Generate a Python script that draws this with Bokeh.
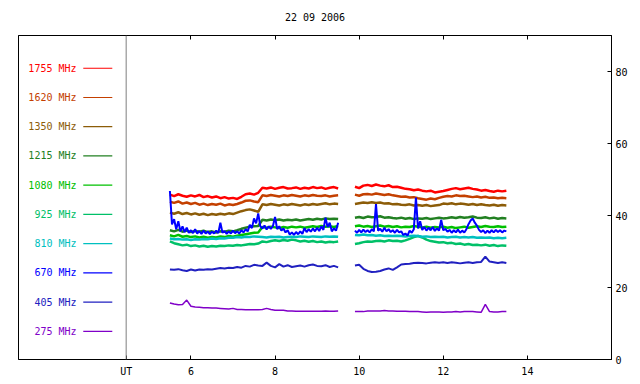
from bokeh.plotting import figure
from bokeh.models import Range1d, FixedTicker, LinearAxis, Span, ColumnDataSource, LabelSet
from bokeh.core.properties import value
from bokeh.embed import file_html
from bokeh.resources import INLINE

# ---------------- data ----------------
times_a = [5.5, 5.6, 5.7, 5.8, 5.9, 6.0, 6.1, 6.2, 6.3, 6.4,
           6.5, 6.6, 6.7, 6.8, 6.9, 7.0, 7.1, 7.2, 7.3, 7.4,
           7.5, 7.6, 7.7, 7.8, 7.9, 8.0, 8.1, 8.2, 8.3, 8.4,
           8.5, 8.6, 8.7, 8.8, 8.9, 9.0, 9.1, 9.2, 9.3, 9.4,
           9.5]
times_b = [9.9, 10.0, 10.1, 10.2, 10.3, 10.4, 10.5, 10.6, 10.7, 10.8,
           10.9, 11.0, 11.1, 11.2, 11.3, 11.4, 11.5, 11.6, 11.7, 11.8,
           11.9, 12.0, 12.1, 12.2, 12.3, 12.4, 12.5, 12.6, 12.7, 12.8,
           12.9, 13.0, 13.1, 13.2, 13.3, 13.4, 13.5]

times_fine_a = [5.50, 5.55, 5.60, 5.65, 5.70, 5.75, 5.80, 5.85, 5.90, 5.95,
                6.00, 6.05, 6.10, 6.15, 6.20, 6.25, 6.30, 6.35, 6.40, 6.45,
                6.50, 6.55, 6.60, 6.65, 6.70, 6.75, 6.80, 6.85, 6.90, 6.95,
                7.00, 7.05, 7.10, 7.15, 7.20, 7.25, 7.30, 7.35, 7.40, 7.45,
                7.50, 7.55, 7.60, 7.65, 7.70, 7.75, 7.80, 7.85, 7.90, 7.95,
                8.00, 8.05, 8.10, 8.15, 8.20, 8.25, 8.30, 8.35, 8.40, 8.45,
                8.50, 8.55, 8.60, 8.65, 8.70, 8.75, 8.80, 8.85, 8.90, 8.95,
                9.00, 9.05, 9.10, 9.15, 9.20, 9.25, 9.30, 9.35, 9.40, 9.45,
                9.50]
times_fine_b = [9.90, 9.95, 10.00, 10.05, 10.10, 10.15, 10.20, 10.25, 10.30, 10.35,
                10.40, 10.45, 10.50, 10.55, 10.60, 10.65, 10.70, 10.75, 10.80, 10.85,
                10.90, 10.95, 11.00, 11.05, 11.10, 11.15, 11.20, 11.25, 11.30, 11.35,
                11.40, 11.45, 11.50, 11.55, 11.60, 11.65, 11.70, 11.75, 11.80, 11.85,
                11.90, 11.95, 12.00, 12.05, 12.10, 12.15, 12.20, 12.25, 12.30, 12.35,
                12.40, 12.45, 12.50, 12.55, 12.60, 12.65, 12.70, 12.75, 12.80, 12.85,
                12.90, 12.95, 13.00, 13.05, 13.10, 13.15, 13.20, 13.25, 13.30, 13.35,
                13.40, 13.45, 13.50]

labels = ["1755 MHz", "1620 MHz", "1350 MHz", "1215 MHz", "1080 MHz",
          "925 MHz", "810 MHz", "670 MHz", "405 MHz", "275 MHz"]
colors = ["#ff0000", "#c44000", "#8c5c08", "#228022", "#00c000",
          "#00c068", "#00c0c0", "#0000ff", "#2020c0", "#8000c8"]

mhz1755_a = [45.8, 45.4, 45.9, 45.5, 45.2, 45.6, 45.3, 45.7, 45.1, 45.4,
             45.0, 45.3, 44.8, 45.1, 44.7, 44.9, 44.6, 45.2, 45.9, 46.1,
             45.8, 46.3, 47.7, 47.5, 47.8, 47.4, 47.7, 47.9, 47.5, 47.6,
             47.8, 47.4, 47.7, 47.5, 47.9, 47.6, 47.8, 47.4, 47.7, 47.9,
             47.5]
mhz1755_b = [48.0, 47.6, 48.3, 48.5, 48.2, 48.6, 48.3, 48.1, 48.4, 47.9,
             48.0, 47.7, 47.4, 47.3, 47.0, 47.2, 46.9, 46.7, 46.9, 46.4,
             46.6, 46.8, 47.1, 47.4, 47.6, 47.3, 47.5, 47.7, 47.4, 47.2,
             46.9, 47.1, 46.8, 46.6, 46.9, 46.7, 46.9]

mhz1620_a = [43.8, 43.5, 43.9, 43.3, 43.6, 43.2, 43.5, 43.0, 43.3, 42.9,
             43.2, 43.0, 43.3, 42.8, 43.1, 42.9, 43.2, 43.6, 44.1, 44.2,
             43.9, 43.7, 45.6, 45.4, 45.7, 45.5, 45.3, 45.6, 45.4, 45.7,
             45.5, 45.3, 45.6, 45.4, 45.7, 45.5, 45.4, 45.6, 45.3, 45.5,
             45.6]
mhz1620_b = [45.8, 45.5, 45.9, 46.0, 45.8, 46.1, 45.9, 45.7, 45.9, 45.6,
             45.4, 45.2, 45.3, 45.0, 45.1, 44.8, 44.6, 44.4, 44.7, 44.5,
             44.9, 45.2, 45.4, 45.3, 45.6, 45.4, 45.5, 45.3, 45.1, 45.3,
             45.0, 45.2, 44.9, 45.0, 44.8, 44.9, 44.8]

mhz1350_a = [40.8, 40.5, 40.9, 40.4, 40.7, 40.3, 40.6, 40.2, 40.5, 40.1,
             40.4, 40.2, 40.5, 40.3, 40.6, 40.4, 40.8, 41.2, 41.5, 41.7,
             41.4, 41.0, 43.1, 42.9, 43.2, 43.0, 42.8, 43.1, 42.9, 43.2,
             43.0, 42.8, 43.1, 42.9, 43.2, 43.0, 43.2, 43.4, 43.1, 43.3,
             43.2]
mhz1350_b = [43.2, 43.4, 43.6, 43.5, 43.7, 43.5, 43.6, 43.3, 43.4, 43.1,
             43.2, 43.0, 42.9, 43.1, 42.8, 42.9, 42.7, 42.9, 42.6, 42.8,
             42.9, 43.3, 43.2, 43.4, 43.1, 43.3, 43.2, 43.0, 43.2, 42.9,
             43.1, 42.9, 42.8, 43.0, 42.7, 42.9, 42.8]

mhz1215_a = [35.9, 35.6, 36.0, 35.5, 35.8, 35.4, 35.7, 35.5, 35.8, 35.4,
             35.6, 35.3, 35.6, 35.5, 35.8, 35.6, 35.9, 36.3, 36.6, 36.9,
             37.0, 37.1, 38.8, 38.6, 38.9, 38.7, 38.9, 38.6, 38.8, 38.7,
             38.9, 38.6, 38.8, 39.0, 38.8, 39.1, 38.9, 39.2, 39.0, 39.1,
             39.0]
mhz1215_b = [39.4, 39.6, 39.3, 39.7, 39.5, 39.6, 39.8, 39.4, 39.5, 39.3,
             39.2, 39.4, 39.1, 39.3, 39.0, 39.2, 39.1, 39.3, 39.0, 39.2,
             39.4, 39.2, 39.3, 39.5, 39.3, 39.6, 39.4, 39.5, 39.7, 39.4,
             39.3, 39.5, 39.2, 39.4, 39.1, 39.3, 39.2]

mhz1080_a = [34.5, 34.2, 34.6, 34.1, 34.3, 34.0, 34.2, 33.9, 34.1, 33.8,
             34.0, 33.9, 34.2, 34.0, 34.3, 34.1, 34.4, 34.6, 34.8, 35.0,
             35.2, 35.3, 36.8, 36.6, 36.9, 36.7, 36.5, 36.8, 36.6, 36.9,
             36.7, 36.9, 36.6, 36.8, 37.0, 36.8, 37.1, 36.9, 37.0, 36.8,
             37.1]
mhz1080_b = [37.0, 37.2, 36.9, 37.1, 36.8, 37.0, 37.2, 36.9, 37.1, 36.8,
             37.0, 36.7, 36.9, 36.8, 37.1, 36.9, 36.7, 36.9, 36.6, 36.8,
             36.7, 36.9, 36.6, 36.8, 36.5, 36.7, 36.9, 36.6, 36.8, 37.0,
             36.8, 37.1, 36.9, 36.8, 37.0, 36.8, 36.9]

mhz925_a = [32.8, 32.3, 32.0, 31.7, 31.9, 31.5, 31.7, 31.4, 31.6, 31.3,
            31.5, 31.4, 31.6, 31.5, 31.7, 31.6, 31.8, 31.7, 31.9, 32.1,
            32.0, 32.2, 32.8, 32.6, 32.9, 33.1, 32.9, 33.2, 33.0, 33.3,
            33.1, 32.8, 33.0, 32.7, 32.9, 32.6, 32.8, 32.5, 32.7, 32.6,
            32.8]
mhz925_b = [32.1, 32.3, 32.6, 32.8, 32.7, 32.9, 33.0, 32.8, 33.1, 32.9,
            33.0, 32.8, 33.1, 33.5, 34.0, 34.3, 33.9, 33.3, 32.9, 32.7,
            32.5, 32.6, 32.3, 32.4, 32.1, 32.2, 31.9, 32.1, 31.8, 31.9,
            31.7, 31.9, 31.6, 31.8, 31.5, 31.7, 31.6]

mhz810_a = [33.6, 33.4, 33.5, 33.3, 33.4, 33.2, 33.4, 33.3, 33.5, 33.4,
            33.6, 33.5, 33.7, 33.6, 33.8, 33.8, 34.0, 33.9, 34.1, 34.0,
            34.2, 34.1, 34.0, 33.9, 34.1, 34.0, 34.1, 33.9, 34.0, 34.1,
            34.0, 34.2, 34.1, 34.0, 34.2, 34.1, 34.0, 34.2, 34.1, 34.2,
            34.1]
mhz810_b = [34.6, 34.5, 34.7, 34.5, 34.6, 34.4, 34.5, 34.3, 34.4, 34.3,
            34.4, 34.3, 34.2, 34.3, 34.4, 34.3, 34.1, 34.2, 34.0, 34.1,
            34.0, 34.1, 33.9, 34.0, 34.1, 33.9, 34.0, 33.9, 34.0, 33.8,
            33.9, 33.8, 33.9, 33.7, 33.8, 33.7, 33.8]

mhz670_a = [46.8, 37.5, 39.0, 36.2, 38.4, 35.6, 37.0, 35.4, 36.6, 35.2,
            35.9, 35.1, 36.2, 35.0, 35.7, 34.9, 35.8, 35.0, 35.6, 34.8,
            35.5, 35.0, 35.8, 35.1, 38.0, 35.2, 35.7, 34.9, 35.6, 35.0,
            35.8, 35.1, 35.6, 35.0, 35.9, 35.3, 36.2, 35.6, 37.4, 36.5,
            39.2, 37.8, 40.6, 37.0, 36.4, 37.2, 36.1, 37.0, 36.3, 37.1,
            39.6, 36.2, 37.0, 35.8, 36.4, 35.3, 35.9, 34.7, 35.3, 34.6,
            35.4, 34.8, 35.6, 34.9, 36.5, 35.4, 36.2, 35.5, 36.4, 35.6,
            36.6, 35.7, 37.0, 36.0, 39.4, 36.8, 38.0, 35.6, 36.4, 35.8,
            38.0]
mhz670_b = [35.8, 35.2, 36.0, 35.3, 36.1, 35.4, 35.9, 35.3, 36.2, 35.6,
            43.2, 35.8, 36.3, 35.5, 36.6, 35.6, 36.2, 35.4, 35.9, 35.2,
            36.0, 35.3, 35.6, 34.6, 35.0, 34.4, 35.8, 35.2, 36.2, 45.0,
            36.4, 38.4, 36.0, 36.8, 35.8, 36.6, 35.9, 36.8, 35.7, 36.4,
            35.8, 38.8, 35.9, 36.3, 35.5, 36.0, 35.2, 35.9, 35.3, 36.1,
            35.2, 35.8, 35.3, 36.2, 37.6, 38.6, 39.2, 38.0, 37.2, 36.0,
            35.4, 35.9, 35.1, 35.8, 35.2, 35.9, 35.3, 36.0, 35.4, 35.9,
            35.3, 35.8, 35.6]

mhz405_a = [25.0, 24.9, 25.1, 24.8, 24.6, 25.0, 24.7, 25.0, 24.9, 25.1,
            25.0, 25.2, 25.4, 25.3, 25.5, 25.4, 25.7, 25.5, 26.0, 25.8,
            26.3, 26.1, 26.0, 26.9, 26.0, 25.6, 26.5, 25.8, 26.2, 25.7,
            25.9, 26.1, 25.8, 26.2, 26.4, 26.0, 25.9, 26.2, 25.7, 26.0,
            25.6]
mhz405_b = [26.1, 26.3, 25.2, 24.6, 24.3, 24.4, 24.6, 25.0, 25.3, 24.9,
            25.6, 26.4, 26.5, 26.6, 26.8, 26.9, 26.8, 26.7, 26.9, 27.0,
            26.9, 27.0, 26.8, 27.0, 26.9, 26.7, 26.9, 27.0, 26.8, 27.0,
            27.1, 28.6, 27.2, 27.0, 26.8, 27.0, 26.8]

mhz275_a = [15.7, 15.4, 15.2, 15.3, 16.5, 14.8, 14.6, 14.5, 14.4, 14.4,
            14.3, 14.3, 14.2, 14.1, 14.0, 14.2, 13.9, 13.9, 13.8, 13.8,
            13.8, 13.8, 13.9, 14.2, 13.9, 13.7, 13.7, 13.7, 13.5, 13.5,
            13.4, 13.4, 13.4, 13.4, 13.4, 13.4, 13.4, 13.5, 13.4, 13.4,
            13.5]
mhz275_b = [13.3, 13.3, 13.3, 13.5, 13.5, 13.5, 13.5, 13.6, 13.5, 13.5,
            13.4, 13.4, 13.4, 13.3, 13.3, 13.3, 13.2, 13.1, 13.2, 13.2,
            13.2, 13.1, 13.2, 13.2, 13.3, 13.2, 13.3, 13.3, 13.3, 13.2,
            13.1, 15.3, 13.3, 13.2, 13.2, 13.3, 13.3]

x_ticks = [6, 8, 10, 12, 14]
y_ticks = [0, 20, 40, 60, 80]
ut_pos = 4.46
title_text = "22 09 2006"

coarse = (times_a, times_b)
fine = (times_fine_a, times_fine_b)
series = [(coarse, mhz1755_a, mhz1755_b), (coarse, mhz1620_a, mhz1620_b),
          (coarse, mhz1350_a, mhz1350_b), (coarse, mhz1215_a, mhz1215_b),
          (coarse, mhz1080_a, mhz1080_b), (coarse, mhz925_a, mhz925_b),
          (coarse, mhz810_a, mhz810_b), (fine, mhz670_a, mhz670_b),
          (coarse, mhz405_a, mhz405_b), (coarse, mhz275_a, mhz275_b)]
widths = [2.5, 2.5, 2.5, 2.5, 2.5, 2.5, 2.5, 2, 2, 1.5]

FONT = "DejaVu Sans Mono"

# ---------------- figure ----------------
p = figure(frame_width=593, frame_height=324,
           x_range=Range1d(1.9, 16.0), y_range=Range1d(0, 90),
           output_backend="svg", toolbar_location=None,
           y_axis_location="right", title=title_text,
           min_border_left=18, min_border_top=35,
           min_border_right=0, min_border_bottom=0)
p.title.align = "center"
p.title.text_font = FONT
p.title.text_font_size = "10px"
p.title.text_font_style = "normal"
p.title.text_color = "black"
p.title.standoff = 21
p.title.vertical_align = "top"
p.outline_line_color = "black"
p.outline_line_alpha = 1
p.grid.visible = False
p.background_fill_color = "white"
p.border_fill_color = "white"

for ax in (p.xaxis[0], p.yaxis[0]):
    ax.major_tick_in = 4
    ax.major_tick_out = 0
    ax.minor_tick_line_color = None
    ax.major_label_text_font = FONT
    ax.major_label_text_font_size = "10px"
    ax.major_label_text_color = "black"
    ax.axis_line_color = "black"
    ax.major_tick_line_color = "black"

p.xaxis.ticker = FixedTicker(ticks=[ut_pos] + x_ticks)
p.xaxis.major_label_overrides = {ut_pos: "UT"}
p.xaxis.major_label_standoff = 6
p.yaxis.ticker = FixedTicker(ticks=y_ticks)
p.yaxis.major_label_standoff = 4

top = LinearAxis(ticker=FixedTicker(ticks=x_ticks), major_tick_in=4, major_tick_out=0,
                 major_label_overrides={t: "" for t in x_ticks}, major_label_standoff=0,
                 minor_tick_line_color=None, axis_line_color="black")
p.add_layout(top, "above")

# data lines
for ((ta, tb), sa, sb), col, w in zip(series, colors, widths):
    p.multi_line(xs=[ta, tb], ys=[sa, sb], line_color=col, line_width=w)

# UT separator line
p.add_layout(Span(location=ut_pos, dimension="height", line_color="#7f7f7f", line_width=1))

# legend (layout positions)
LEG_TOP = 80.9
LEG_STEP = 8.12
leg_y = [LEG_TOP - i * LEG_STEP for i in range(len(labels))]
leg_src = ColumnDataSource(dict(y=leg_y, label=labels, color=colors,
                                xt=[3.28] * len(labels),
                                x0=[3.44] * len(labels), x1=[4.13] * len(labels)))
p.add_layout(LabelSet(x="xt", y="y", text="label", text_color="color", source=leg_src,
                      text_align="right", text_baseline="middle",
                      text_font=value(FONT), text_font_size=value("10px")))
p.segment(x0="x0", x1="x1", y0="y", y1="y", line_color="color", line_width=1.2, source=leg_src)

open("out.html", "w").write(file_html(p, INLINE))
